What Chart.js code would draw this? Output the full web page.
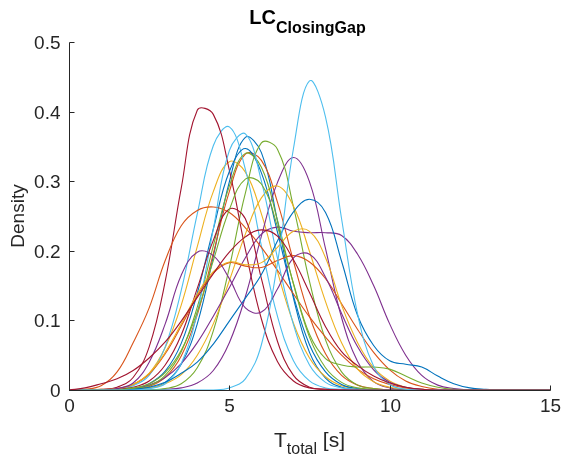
<!DOCTYPE html>
<html>
<head>
<meta charset="utf-8">
<script src="https://cdn.jsdelivr.net/npm/chart.js@4"></script>
<style>
  html, body { margin: 0; padding: 0; background: #fff; }
  canvas { display: block; }
</style>
</head>
<body>
<canvas id="kde_total" width="563" height="462"></canvas>
<script>
// time grid shared by every density curve [s]
const tGrid = [0, 0.5, 1, 1.5, 2, 2.5, 3, 3.5, 4, 4.5, 5, 5.5, 6, 6.5, 7, 7.5, 8, 8.5, 9, 9.5, 10, 10.5, 11, 11.5, 12, 12.5, 13, 13.5, 14, 14.5, 15];

// estimated densities, one array per run
const run01 = [0, 0, 0, 0, 0, 0.003, 0.011, 0.037, 0.095, 0.192, 0.299, 0.363, 0.341, 0.243, 0.132, 0.054, 0.017, 0.004, 0.001, 0, 0, 0, 0, 0, 0, 0, 0, 0, 0, 0, 0];
const run02 = [0, 0, 0, 0, 0.001, 0.005, 0.018, 0.049, 0.108, 0.196, 0.285, 0.339, 0.330, 0.270, 0.185, 0.106, 0.052, 0.021, 0.007, 0.002, 0, 0, 0, 0, 0, 0, 0, 0, 0, 0, 0];
const run03 = [0, 0, 0.001, 0.002, 0.008, 0.024, 0.061, 0.122, 0.206, 0.285, 0.328, 0.313, 0.253, 0.170, 0.096, 0.046, 0.019, 0.006, 0.002, 0, 0, 0, 0, 0, 0, 0, 0, 0, 0, 0, 0];
const run04 = [0, 0, 0, 0, 0, 0, 0.001, 0.003, 0.010, 0.028, 0.068, 0.134, 0.221, 0.298, 0.334, 0.299, 0.203, 0.104, 0.041, 0.012, 0.003, 0.001, 0, 0, 0, 0, 0, 0, 0, 0, 0];
const run05 = [0, 0, 0, 0, 0, 0, 0.002, 0.009, 0.032, 0.085, 0.176, 0.283, 0.355, 0.346, 0.263, 0.156, 0.072, 0.026, 0.007, 0.002, 0, 0, 0, 0, 0, 0, 0, 0, 0, 0, 0];
const run06 = [0, 0, 0, 0.001, 0.006, 0.021, 0.062, 0.143, 0.253, 0.351, 0.378, 0.317, 0.207, 0.106, 0.042, 0.013, 0.003, 0.001, 0, 0, 0, 0, 0, 0, 0, 0, 0, 0, 0, 0, 0];
const run07 = [0, 0, 0.001, 0.004, 0.018, 0.062, 0.156, 0.290, 0.402, 0.396, 0.316, 0.202, 0.102, 0.041, 0.013, 0.003, 0.001, 0, 0, 0, 0, 0, 0, 0, 0, 0, 0, 0, 0, 0, 0];
const run08 = [0, 0, 0, 0, 0.002, 0.009, 0.027, 0.067, 0.139, 0.231, 0.314, 0.347, 0.312, 0.227, 0.135, 0.065, 0.026, 0.008, 0.002, 0, 0, 0, 0, 0, 0, 0, 0, 0, 0, 0, 0];
const run09 = [0, 0.001, 0.006, 0.026, 0.068, 0.118, 0.186, 0.236, 0.258, 0.263, 0.255, 0.233, 0.205, 0.172, 0.138, 0.105, 0.076, 0.050, 0.030, 0.016, 0.008, 0.003, 0.001, 0, 0, 0, 0, 0, 0, 0, 0];
const run10 = [0, 0, 0, 0, 0.001, 0.003, 0.009, 0.022, 0.050, 0.095, 0.157, 0.224, 0.276, 0.293, 0.264, 0.199, 0.127, 0.068, 0.030, 0.012, 0.004, 0.001, 0, 0, 0, 0, 0, 0, 0, 0, 0];
const run11 = [0, 0, 0, 0, 0.002, 0.007, 0.018, 0.038, 0.068, 0.106, 0.147, 0.190, 0.224, 0.234, 0.228, 0.226, 0.226, 0.222, 0.195, 0.150, 0.095, 0.050, 0.021, 0.007, 0.002, 0, 0, 0, 0, 0, 0];
const run12 = [0, 0, 0, 0, 0.002, 0.006, 0.021, 0.055, 0.119, 0.207, 0.293, 0.340, 0.320, 0.244, 0.152, 0.076, 0.032, 0.011, 0.003, 0.001, 0, 0, 0, 0, 0, 0, 0, 0, 0, 0, 0];
const run13 = [0, 0, 0, 0, 0, 0.002, 0.009, 0.038, 0.111, 0.231, 0.344, 0.368, 0.300, 0.190, 0.094, 0.036, 0.011, 0.003, 0.001, 0, 0, 0, 0, 0, 0, 0, 0, 0, 0, 0, 0];
const run14 = [0, 0, 0, 0.001, 0.004, 0.013, 0.036, 0.079, 0.146, 0.215, 0.260, 0.246, 0.160, 0.070, 0.021, 0.004, 0.001, 0, 0, 0, 0, 0, 0, 0, 0, 0, 0, 0, 0, 0, 0];
const run15 = [0, 0, 0, 0, 0.001, 0.004, 0.011, 0.024, 0.040, 0.066, 0.099, 0.132, 0.166, 0.214, 0.256, 0.274, 0.255, 0.185, 0.107, 0.064, 0.042, 0.037, 0.033, 0.020, 0.009, 0.003, 0.001, 0, 0, 0, 0];
const run16 = [0, 0, 0, 0.002, 0.008, 0.023, 0.052, 0.092, 0.135, 0.168, 0.183, 0.178, 0.176, 0.186, 0.193, 0.184, 0.160, 0.124, 0.087, 0.054, 0.029, 0.013, 0.005, 0.001, 0, 0, 0, 0, 0, 0, 0];
const run17 = [0, 0, 0, 0.002, 0.008, 0.024, 0.054, 0.095, 0.138, 0.170, 0.184, 0.180, 0.183, 0.205, 0.228, 0.228, 0.190, 0.122, 0.068, 0.032, 0.013, 0.004, 0.001, 0, 0, 0, 0, 0, 0, 0, 0];
const run18 = [0, 0, 0, 0.002, 0.010, 0.040, 0.095, 0.165, 0.198, 0.193, 0.160, 0.118, 0.112, 0.145, 0.190, 0.195, 0.162, 0.110, 0.062, 0.029, 0.011, 0.004, 0.001, 0, 0, 0, 0, 0, 0, 0, 0];
const run19 = [0, 0, 0, 0, 0.003, 0.009, 0.025, 0.057, 0.112, 0.186, 0.259, 0.303, 0.296, 0.235, 0.153, 0.080, 0.045, 0.036, 0.033, 0.033, 0.030, 0.020, 0.010, 0.004, 0.001, 0, 0, 0, 0, 0, 0];
const run20 = [0, 0, 0, 0, 0, 0, 0, 0, 0, 0, 0.003, 0.016, 0.065, 0.182, 0.347, 0.444, 0.392, 0.246, 0.109, 0.034, 0.008, 0.001, 0, 0, 0, 0, 0, 0, 0, 0, 0];
const run21 = [0, 0.003, 0.009, 0.016, 0.028, 0.046, 0.069, 0.099, 0.133, 0.167, 0.198, 0.220, 0.230, 0.221, 0.187, 0.140, 0.091, 0.055, 0.035, 0.020, 0.010, 0.004, 0.001, 0, 0, 0, 0, 0, 0, 0, 0];

const runs = [run01, run02, run03, run04, run05, run06, run07, run08, run09, run10, run11, run12, run13, run14, run15, run16, run17, run18, run19, run20, run21];

const xTicks = [0, 5, 10, 15];
const yTicks = [0, 0.1, 0.2, 0.3, 0.4, 0.5];

// default MATLAB line colour order
const lineColors = ['#0072BD', '#D95319', '#EDB120', '#7E2F8E', '#77AC30', '#4DBEEE', '#A2142F'];

const axisColor = '#262626';
const fontFamily = 'Arial, "Liberation Sans", Helvetica, sans-serif';

// axes, inward ticks, labels and the subscripted titles
const matlabAxes = {
    id: 'matlabAxes',
    afterDatasetsDraw(chart) {
        const ctx = chart.ctx;
        const area = chart.chartArea;
        const xs = chart.scales.x;
        const ys = chart.scales.y;
        const L = Math.round(area.left) + 0.5;
        const B = Math.round(area.bottom) + 0.5;
        const R = Math.round(area.right) + 0.5;
        const T = Math.round(area.top) + 0.5;

        ctx.save();
        ctx.strokeStyle = axisColor;
        ctx.lineWidth = 1;
        ctx.beginPath();
        ctx.moveTo(L, T);
        ctx.lineTo(L, B);
        ctx.lineTo(R, B);
        ctx.stroke();

        ctx.fillStyle = axisColor;
        ctx.font = '19px ' + fontFamily;

        // x ticks
        ctx.textAlign = 'center';
        ctx.textBaseline = 'top';
        xTicks.forEach(v => {
            const px = Math.round(xs.getPixelForValue(v)) + 0.5;
            ctx.beginPath();
            ctx.moveTo(px, B);
            ctx.lineTo(px, B - 5);
            ctx.stroke();
            ctx.fillText(String(v), px, B + 7);
        });

        // y ticks
        ctx.textAlign = 'right';
        ctx.textBaseline = 'middle';
        yTicks.forEach(v => {
            const py = Math.round(ys.getPixelForValue(v)) + 0.5;
            ctx.beginPath();
            ctx.moveTo(L, py);
            ctx.lineTo(L + 5, py);
            ctx.stroke();
            ctx.fillText(String(v), L - 9, py + 1);
        });

        // y axis title
        ctx.save();
        ctx.translate(19, (area.top + area.bottom) / 2);
        ctx.rotate(-Math.PI / 2);
        ctx.textAlign = 'center';
        ctx.textBaseline = 'middle';
        ctx.font = '19px ' + fontFamily;
        ctx.fillText('Density', 0, 0);
        ctx.restore();

        // x axis title: T_total [s]
        drawSubscripted(ctx, 'T', 'total', ' [s]', (area.left + area.right) / 2, 447,
            '21px ' + fontFamily, '16px ' + fontFamily, 7);

        // plot title: LC_ClosingGap
        ctx.fillStyle = '#000';
        drawSubscripted(ctx, 'LC', 'ClosingGap', '', (area.left + area.right) / 2 - 2, 24,
            'bold 20px ' + fontFamily, 'bold 16px ' + fontFamily, 9);

        ctx.restore();
    }
};

function drawSubscripted(ctx, main, sub, tail, cx, baseline, mainFont, subFont, drop) {
    ctx.textAlign = 'left';
    ctx.textBaseline = 'alphabetic';
    ctx.font = mainFont;
    const wMain = ctx.measureText(main).width;
    const wTail = tail ? ctx.measureText(tail).width : 0;
    ctx.font = subFont;
    const wSub = ctx.measureText(sub).width;
    let x = cx - (wMain + wSub + wTail) / 2;
    ctx.font = mainFont;
    ctx.fillText(main, x, baseline);
    x += wMain;
    ctx.font = subFont;
    ctx.fillText(sub, x, baseline + drop);
    x += wSub;
    if (tail) {
        ctx.font = mainFont;
        ctx.fillText(tail, x, baseline);
    }
}

const ctx = document.getElementById('kde_total').getContext('2d');

const datasets = runs.map((vals, i) => ({
    data: tGrid.map((t, j) => ({ x: t, y: vals[j] })),
    borderColor: lineColors[i % lineColors.length],
    borderWidth: 1.1,
    pointRadius: 0,
    tension: 0.4,
    fill: false,
    order: runs.length - i,   // later runs drawn on top
    clip: { left: 0, top: 10, right: 0, bottom: 1 }
}));

new Chart(ctx, {
    type: 'line',
    data: { datasets: datasets },
    options: {
        responsive: false,
        animation: false,
        events: [],
        layout: {
            padding: { left: 69, right: 13, top: 42, bottom: 72 }
        },
        plugins: {
            legend: { display: false },
            tooltip: { enabled: false },
            title: { display: false }
        },
        scales: {
            x: { type: 'linear', min: 0, max: 15, display: false },
            y: { type: 'linear', min: 0, max: 0.5, display: false }
        }
    },
    plugins: [matlabAxes]
});
</script>
</body>
</html>
